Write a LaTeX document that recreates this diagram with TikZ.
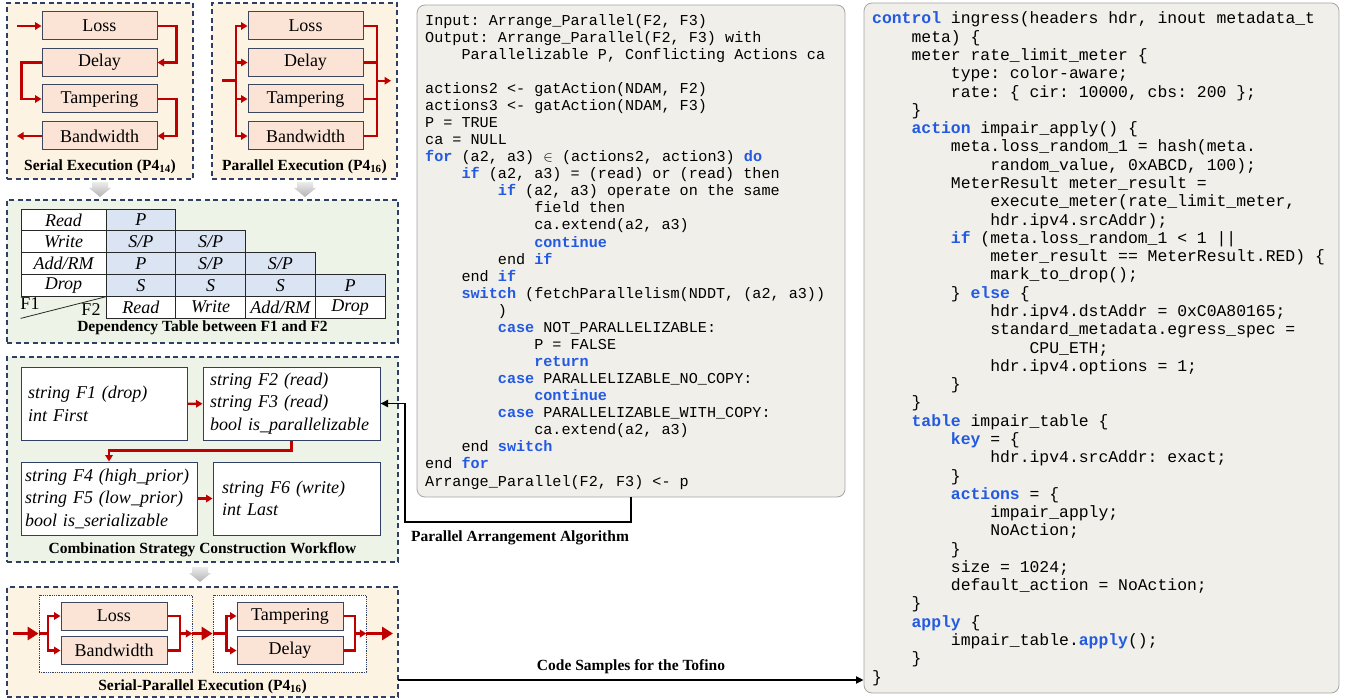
\documentclass[tikz,border=0pt]{standalone}
\usepackage{fontspec}
\setmainfont{Liberation Serif}
\setmonofont{Liberation Mono}
\usetikzlibrary{arrows.meta,calc}
\definecolor{panelnavy}{RGB}{47,64,100}
\definecolor{creamfill}{RGB}{253,243,226}
\definecolor{greenfill}{RGB}{237,243,230}
\definecolor{peach}{RGB}{251,228,214}
\definecolor{boxline}{RGB}{60,70,95}
\definecolor{cellblue}{RGB}{219,228,243}
\definecolor{cellline}{RGB}{40,40,40}
\definecolor{arrred}{RGB}{192,0,0}
\definecolor{codebg}{RGB}{240,239,233}
\definecolor{codeline}{RGB}{165,165,165}
\definecolor{kwblue}{RGB}{35,90,225}
\newcommand\kw[1]{\textcolor{kwblue}{\bfseries #1}}
\newcommand\codeind[1]{\hspace*{\dimexpr0.6em*#1\relax}}
\tikzset{
  panel/.style={draw=panelnavy,line width=1.3pt,dash pattern=on 5pt off 3.5pt,inner sep=0pt},
  fxbox/.style={draw=boxline,fill=peach,line width=1pt,minimum width=115pt,minimum height=28pt,inner sep=0pt,font=\fontsize{18}{20}\selectfont},
  grpbox/.style={draw=panelnavy,fill=white,densely dotted,line width=0.8pt,minimum width=153pt,minimum height=77pt,inner sep=0pt},
  redarr/.style={-{Triangle[length=6.5pt,width=7.5pt]},draw=arrred,line width=2.2pt},
  redline/.style={draw=arrred,line width=2.2pt},
  fatarr/.style={-{Triangle[length=11pt,width=13pt]},draw=arrred,line width=3.8pt},
  blkarr/.style={-{Triangle[length=7.5pt,width=7pt]},line width=1.9pt},
  panellabel/.style={font=\bfseries\fontsize{15.5}{18}\selectfont,inner sep=0pt},
  tcell/.style={draw=cellline,line width=0.8pt,minimum width=69.75pt,minimum height=21.8pt,inner sep=0pt,font=\itshape\fontsize{18}{20}\selectfont},
  hcell/.style={tcell,fill=cellblue},
  rowcell/.style={tcell,fill=white,minimum width=85pt},
  wfbox/.style={draw=panelnavy,fill=white,line width=1pt,inner xsep=7pt,inner ysep=0pt,minimum height=73pt,align=left,font=\itshape\fontsize{18}{22.5}\selectfont},
  codebox/.style={draw=codeline,fill=codebg,rounded corners=8pt,line width=0.8pt},
  codetext/.style={anchor=north west,inner sep=0pt,align=left},
  grayarr/.style={top color=gray!15,bottom color=gray!60,draw=none}
}
\begin{document}
\begin{tikzpicture}[x=1pt,y=-1pt]
  \useasboundingbox (0,0) rectangle (1348,700);

  % panels
  \node[panel,fill=creamfill,minimum width=186pt,minimum height=176pt] (ser) at (100,91) {};
  \node[panel,fill=creamfill,minimum width=185pt,minimum height=176pt] (par) at (304.5,91) {};
  \node[panel,fill=greenfill,minimum width=391pt,minimum height=143pt] (dep) at (202.5,271.5) {};
  \node[panel,fill=greenfill,minimum width=391pt,minimum height=205pt] (wf) at (202.5,459.5) {};
  \node[panel,fill=creamfill,minimum width=391pt,minimum height=110pt] (spp) at (202.5,642) {};

  % gray arrows between panels
  \foreach \gx/\gy in {100/182,305/182,200/567}
    \shade[grayarr] ({\gx-8},\gy) -- ({\gx+8},\gy) -- ({\gx+8},{\gy+6}) -- ({\gx+11},{\gy+6})
      -- (\gx,{\gy+15}) -- ({\gx-11},{\gy+6}) -- ({\gx-8},{\gy+6}) -- cycle;

  % serial execution
  \node[fxbox] (s-loss) at (99.5,26) {Loss};
  \node[fxbox] (s-delay) at (99.5,62.5) {Delay};
  \node[fxbox] (s-tamp) at (99.5,99) {Tampering};
  \node[fxbox] (s-band) at (99.5,136) {Bandwidth};
  \coordinate (s-in) at (17,26);
  \coordinate (s-out) at (17,136);
  \draw[redarr] (s-in) -- (s-loss);
  \draw[redarr] (s-loss.east) -- ++(19,0) |- (s-delay.east);
  \draw[redarr] (s-delay.west) -- ++(-20,0) |- (s-tamp.west);
  \draw[redarr] (s-tamp.east) -- ++(19,0) |- (s-band.east);
  \draw[redarr] (s-band) -- (s-out);
  \node[panellabel] (ser-label) at (100,167) {Serial Execution (P4\textsubscript{14})};

  % parallel execution
  \node[fxbox] (p-loss) at (305.5,26) {Loss};
  \node[fxbox] (p-delay) at (305.5,62.5) {Delay};
  \node[fxbox] (p-tamp) at (305.5,99) {Tampering};
  \node[fxbox] (p-band) at (305.5,136) {Bandwidth};
  \coordinate (p-in) at (222,80.75);
  \coordinate (p-ibus) at (236,80.75);
  \coordinate (p-obus) at (377,80.75);
  \coordinate (p-out) at (391,80.75);
  \draw[redline,line width=3.2pt] (p-in) -- (p-ibus);
  \foreach \b in {p-loss,p-delay,p-tamp,p-band}{
    \draw[redarr] (p-ibus) |- (\b);
    \draw[redline] (\b) -| (p-obus);
  }
  \draw[redarr] (p-obus) -- (p-out);
  \node[panellabel] (par-label) at (304.5,167) {Parallel Execution (P4\textsubscript{16})};

  % dependency table
  \foreach \lab [count=\r] in {Read,Write,Add/RM,Drop}
    \node[rowcell] (row-\r) at (63.5,{209+21.8*(\r-0.5)}) {\lab};
  \foreach \r/\c/\v in {1/1/P,2/1/{S/P},2/2/{S/P},3/1/P,3/2/{S/P},3/3/{S/P},4/1/S,4/2/S,4/3/S,4/4/P}
    \node[hcell] (cell-\r-\c) at ({106+69.75*(\c-0.5)},{209+21.8*(\r-0.5)}) {\v};
  \foreach \lab [count=\c] in {Read,Write,Add/RM,Drop}
    \node[tcell,fill=white] (hd-\c) at ({106+69.75*(\c-0.5)},{209+21.8*4.5}) {\lab};
  \draw[cellline,line width=0.8pt] (row-4.west |- hd-1.south) -- (row-4.south east);
  \node[font=\fontsize{18}{20}\selectfont,inner sep=0pt] (f-one) at (30,304) {F1};
  \node[font=\fontsize{18}{20}\selectfont,inner sep=0pt] (f-two) at (91,310) {F2};
  \node[panellabel] (dep-label) at (202.5,328) {Dependency Table between F1 and F2};

  % combination workflow
  \node[wfbox,text width=152pt] (wf-a) at (104,404) {string F1 (drop)\\int First};
  \node[wfbox,text width=163pt] (wf-b) at (291.5,403.5) {string F2 (read)\\string F3 (read)\\bool is\_parallelizable};
  \node[wfbox,text width=168pt,inner xsep=4pt] (wf-c) at (109,498.5) {string F4 (high\_prior)\\string F5 (low\_prior)\\bool is\_serializable};
  \node[wfbox,text width=149pt,inner xsep=9pt] (wf-d) at (296.5,498.5) {string F6 (write)\\int Last};
  \draw[redarr] (wf-a) -- (wf-b);
  \draw[redarr] (wf-b.south) -- ++(0,10) -| (wf-c.north);
  \draw[redarr] (wf-c) -- (wf-d);
  \node[panellabel] (wf-label) at (202.5,550) {Combination Strategy Construction Workflow};

  % serial-parallel execution
  \node[grpbox] (g1) at (115.5,633.5) {};
  \node[grpbox] (g2) at (289.5,633.5) {};
  \node[fxbox,minimum width=106pt] (spp-loss) at (114,616) {Loss};
  \node[fxbox,minimum width=106pt] (spp-band) at (114,650.5) {Bandwidth};
  \node[fxbox,minimum width=106pt] (spp-tamp) at (290,616) {Tampering};
  \node[fxbox,minimum width=106pt] (spp-delay) at (290,650.5) {Delay};
  \coordinate (spp-in) at (13,633.5);
  \coordinate (spp-out) at (393,633.5);
  \coordinate (g1-ibus) at (48,633.5);
  \coordinate (g1-obus) at (180,633.5);
  \coordinate (g2-ibus) at (226.5,633.5);
  \coordinate (g2-obus) at (355,633.5);
  \draw[fatarr] (spp-in) -- (g1.west);
  \draw[redline] (g1.west) -- (g1-ibus);
  \draw[redarr] (g1-ibus) |- (spp-loss);
  \draw[redarr] (g1-ibus) |- (spp-band);
  \draw[redline] (spp-loss) -| (g1-obus);
  \draw[redline] (spp-band) -| (g1-obus);
  \draw[redarr] (g1-obus) -- (g1.east);
  \draw[fatarr] (g1.east) -- (g2.west);
  \draw[redline] (g2.west) -- (g2-ibus);
  \draw[redarr] (g2-ibus) |- (spp-tamp);
  \draw[redarr] (g2-ibus) |- (spp-delay);
  \draw[redline] (spp-tamp) -| (g2-obus);
  \draw[redline] (spp-delay) -| (g2-obus);
  \draw[redarr] (g2-obus) -- (g2.east);
  \draw[fatarr] (g2.east) -- (spp-out);
  \node[panellabel] (spp-label) at (202.5,687) {Serial-Parallel Execution (P4\textsubscript{16})};

  % algorithm
  \node[codebox,minimum width=428pt,minimum height=492pt] (algo) at (631,251) {};
  \node[codetext,font=\ttfamily\fontsize{15.15}{17.07}\selectfont] (algo-text) at (425,13) {%
\strut Input: Arrange\_Parallel(F2, F3)\\
Output: Arrange\_Parallel(F2, F3) with\\
\codeind{4}Parallelizable P, Conflicting Actions ca\\
\mbox{}\\
actions2 <- gatAction(NDAM, F2)\\
actions3 <- gatAction(NDAM, F3)\\
P = TRUE\\
ca = NULL\\
\kw{for} (a2, a3) $\in$ (actions2, action3) \kw{do}\\
\codeind{4}\kw{if} (a2, a3) = (read) or (read) then\\
\codeind{8}\kw{if} (a2, a3) operate on the same\\
\codeind{12}field then\\
\codeind{12}ca.extend(a2, a3)\\
\codeind{12}\kw{continue}\\
\codeind{8}end \kw{if}\\
\codeind{4}end \kw{if}\\
\codeind{4}\kw{switch} (fetchParallelism(NDDT, (a2, a3))\\
\codeind{8})\\
\codeind{8}\kw{case} NOT\_PARALLELIZABLE:\\
\codeind{12}P = FALSE\\
\codeind{12}\kw{return}\\
\codeind{8}\kw{case} PARALLELIZABLE\_NO\_COPY:\\
\codeind{12}\kw{continue}\\
\codeind{8}\kw{case} PARALLELIZABLE\_WITH\_COPY:\\
\codeind{12}ca.extend(a2, a3)\\
\codeind{4}end \kw{switch}\\
end \kw{for}\\
Arrange\_Parallel(F2, F3) <- p};
  \coordinate (algo-turn) at (405,522);
  \draw[blkarr] (algo.south) |- (algo-turn) |- (wf-b.east);
  \node[panellabel] (algo-label) at (520,538) {Parallel Arrangement Algorithm};

  % tofino code
  \node[codebox,minimum width=475pt,minimum height=690pt] (p4code) at (1101.5,348) {};
  \node[codetext,font=\ttfamily\fontsize{16.4}{18.28}\selectfont] (p4code-text) at (872,11) {%
\strut\kw{control} ingress(headers hdr, inout metadata\_t\\
\codeind{4}meta) \{\\
\codeind{4}meter rate\_limit\_meter \{\\
\codeind{8}type: color-aware;\\
\codeind{8}rate: \{ cir: 10000, cbs: 200 \};\\
\codeind{4}\}\\
\codeind{4}\kw{action} impair\_apply() \{\\
\codeind{8}meta.loss\_random\_1 = hash(meta.\\
\codeind{12}random\_value, 0xABCD, 100);\\
\codeind{8}MeterResult meter\_result =\\
\codeind{12}execute\_meter(rate\_limit\_meter,\\
\codeind{12}hdr.ipv4.srcAddr);\\
\codeind{8}\kw{if} (meta.loss\_random\_1 < 1 ||\\
\codeind{12}meter\_result == MeterResult.RED) \{\\
\codeind{12}mark\_to\_drop();\\
\codeind{8}\} \kw{else} \{\\
\codeind{12}hdr.ipv4.dstAddr = 0xC0A80165;\\
\codeind{12}standard\_metadata.egress\_spec =\\
\codeind{16}CPU\_ETH;\\
\codeind{12}hdr.ipv4.options = 1;\\
\codeind{8}\}\\
\codeind{4}\}\\
\codeind{4}\kw{table} impair\_table \{\\
\codeind{8}\kw{key} = \{\\
\codeind{12}hdr.ipv4.srcAddr: exact;\\
\codeind{8}\}\\
\codeind{8}\kw{actions} = \{\\
\codeind{12}impair\_apply;\\
\codeind{12}NoAction;\\
\codeind{8}\}\\
\codeind{8}size = 1024;\\
\codeind{8}default\_action = NoAction;\\
\codeind{4}\}\\
\codeind{4}\kw{apply} \{\\
\codeind{8}impair\_table.\kw{apply}();\\
\codeind{4}\}\\
\}};
  \coordinate (tofino-start) at (398,680);
  \draw[blkarr] (tofino-start) -- (tofino-start -| p4code.west);
  \node[panellabel] (tofino-label) at (631,667) {Code Samples for the Tofino};
\end{tikzpicture}
\end{document}
